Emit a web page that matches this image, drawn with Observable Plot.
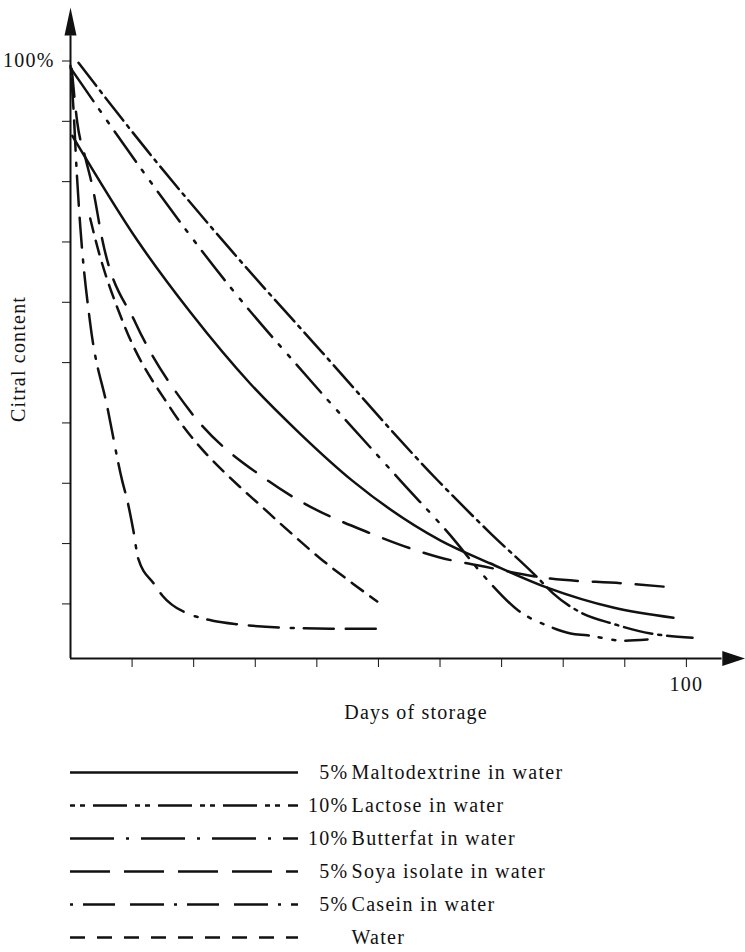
<!DOCTYPE html>
<html><head><meta charset="utf-8">
<script src="https://cdn.jsdelivr.net/npm/d3@7"></script>
<script src="https://cdn.jsdelivr.net/npm/@observablehq/plot@0.6"></script>
<style>
body{margin:0;background:#fff;}
#chart svg,#legend svg{display:block;}
#chart svg line{stroke-width:2px;}
</style></head><body><div id="chart"></div><div id="legend"></div>
<script>
// ---- data ----
const seriesNames = ["Maltodextrine in water","Lactose in water","Butterfat in water","Soya isolate in water","Casein in water","Water"];
const seriesPct   = ["5%","10%","10%","5%","5%",""];

const maltoDays    = [0.3, 10.9, 19.5, 29.2, 37.3, 45.8, 60.1, 68.2, 77.4, 88.1, 97.9];
const maltoContent = [87.6, 70.2, 58.3, 46.5, 38.2, 30.4, 20.5, 16.7, 12.7, 9.4, 7.7];

const lactoseDays    = [0.3, 11.7, 25.8, 39.0, 53.6, 62.8, 65.4, 68.2, 72.7, 77.4, 81.2, 83.9, 89.8, 93.7];
const lactoseContent = [98.4, 81.8, 62.7, 47.0, 30.4, 20.0, 16.7, 13.4, 8.9, 6.4, 5.1, 4.8, 3.9, 4.1];

const butterDays    = [1.3, 12.5, 26.1, 40.6, 59.6, 68.2, 75.8, 78.4, 82.8, 88.1, 94.2, 101.0];
const butterContent = [99.7, 85.1, 68.6, 52.0, 30.5, 21.7, 14.4, 11.7, 8.6, 6.7, 5.1, 4.4];

const soyaDays    = [0.2, 1.1, 2.4, 3.6, 5.2, 10.6, 19.0, 32.1, 37.7, 48.7, 55.2, 62.0, 64.6, 77.9, 89.8, 98.2];
const soyaContent = [98.7, 89.8, 84.0, 79.0, 70.2, 56.5, 42.5, 30.4, 26.8, 21.7, 19.2, 17.2, 16.7, 14.2, 13.4, 12.7];

const caseinDays    = [0.0, 0.5, 1.0, 1.6, 3.2, 6.0, 8.4, 9.3, 10.2, 11.0, 13.5, 14.9, 19.0, 21.1, 23.1, 27.3, 33.8, 42.2, 51.1];
const caseinContent = [99.2, 91.8, 81.8, 72.4, 56.5, 42.5, 30.4, 26.8, 22.2, 17.5, 13.4, 11.4, 8.4, 7.7, 7.2, 6.6, 6.1, 5.9, 5.9];

const waterDays    = [3.2, 4.1, 8.6, 16.2, 27.6, 30.0, 35.4, 40.6, 45.8, 49.8];
const waterContent = [73.9, 70.2, 56.5, 42.5, 29.3, 27.1, 22.1, 17.5, 13.4, 10.4];

const yTicks = [10, 20, 30, 40, 50, 60, 70, 80, 90, 100];
const xTicks = [10, 20, 30, 40, 50, 60, 70, 80, 90, 100];
const yTickLabel = "100%";
const xTickLabel = "100";
const yTitle = "Citral content";
const xTitle = "Days of storage";

// ---- styles ----
const ink = "#111";
const font = "'Liberation Serif','Times New Roman',serif";
const chartDash = ["none", "37,10,3,11,3,10", "29,6,3,6", "28,15", "3,10,30,12,30,12", "14,9"];
const legendDash = ["none", "5,5,5,8,34,8", "44,12,3,12", "40,14", "3,10,32,15,34,10", "15,12"];

const allDays = [maltoDays, lactoseDays, butterDays, soyaDays, caseinDays, waterDays];
const allContent = [maltoContent, lactoseContent, butterContent, soyaContent, caseinContent, waterContent];
const table = allDays.map((days, i) => days.map((d, j) => ({series: seriesNames[i], day: d, content: allContent[i][j]})));

// axis geometry (data units)
const xDomain = [0, 109.6];
const yDomain = [0.95, 109.2];
const xAxisEnd = 105.8, yAxisEnd = 104.2;
const arrowUp = {draw(ctx){ ctx.moveTo(0,-14); ctx.lineTo(6,14); ctx.lineTo(-6,14); ctx.closePath(); }};
const arrowRight = {draw(ctx){ ctx.moveTo(11.5,0); ctx.lineTo(-11.5,-7.5); ctx.lineTo(-11.5,7.5); ctx.closePath(); }};

try {
const chart = Plot.plot({
  width: 745, height: 730,
  marginLeft: 70, marginRight: 0, marginTop: 5, marginBottom: 72,
  style: {fontFamily: font, fontSize: "20px", letterSpacing: "1.2px", color: ink, background: "#fff"},
  x: {domain: xDomain, ticks: xTicks, tickSize: 9, tickPadding: 9, tickFormat: d => d === 100 ? xTickLabel : "", label: null},
  y: {domain: yDomain, ticks: yTicks, tickSize: 8, tickPadding: 8, tickFormat: d => d === 100 ? yTickLabel : "", label: null},
  marks: [
    Plot.ruleX([0], {y1: yDomain[0], y2: yAxisEnd, stroke: ink, strokeWidth: 2}),
    Plot.ruleY([yDomain[0]], {x1: 0, x2: xAxisEnd, stroke: ink, strokeWidth: 2}),
    Plot.dot([{x: 0, y: 106.55}], {x: "x", y: "y", symbol: arrowUp, fill: ink, stroke: null, r: 5}),
    Plot.dot([{x: 107.7, y: yDomain[0]}], {x: "x", y: "y", symbol: arrowRight, fill: ink, stroke: null, r: 5}),
    ...table.map((rows, i) => Plot.line(rows, {x: "day", y: "content", curve: "monotone-x", stroke: ink, strokeWidth: 2.5, strokeDasharray: chartDash[i] === "none" ? undefined : chartDash[i]})),
    Plot.text([yTitle], {text: d => d, frameAnchor: "left", textAnchor: "middle", rotate: -90, dx: -52, dy: 27, fill: ink}),
    Plot.text([xTitle], {text: d => d, frameAnchor: "bottom", textAnchor: "middle", lineAnchor: "middle", dx: 8, dy: 54, fill: ink})
  ]
});
document.getElementById("chart").appendChild(chart);

const legendRows = seriesNames.map((name, i) => ({name, pct: seriesPct[i], i}));
const legend = Plot.plot({
  width: 745, height: 222,
  margin: 0,
  style: {fontFamily: font, fontSize: "20px", letterSpacing: "1.3px", color: ink, background: "#fff"},
  x: {domain: [0, 1], range: [70, 298], axis: null},
  y: {type: "point", domain: seriesNames, range: [40, 209], padding: 0, axis: null},
  marks: [
    ...legendRows.map((r, i) => Plot.ruleY([r], {y: "name", x1: 0, x2: 1, stroke: ink, strokeWidth: 2.5, strokeDasharray: legendDash[i] === "none" ? undefined : legendDash[i]})),
    Plot.text(legendRows, {x: () => 1, y: "name", text: "pct", textAnchor: "end", lineAnchor: "middle", dx: 50, fill: ink}),
    Plot.text(legendRows, {x: () => 1, y: "name", text: "name", textAnchor: "start", lineAnchor: "middle", dx: 53, fill: ink})
  ]
});
document.getElementById("legend").appendChild(legend);
} catch (e) {
  document.body.insertAdjacentHTML("beforeend", "<pre>" + e + "\n" + e.stack + "</pre>");
}
</script></body></html>
